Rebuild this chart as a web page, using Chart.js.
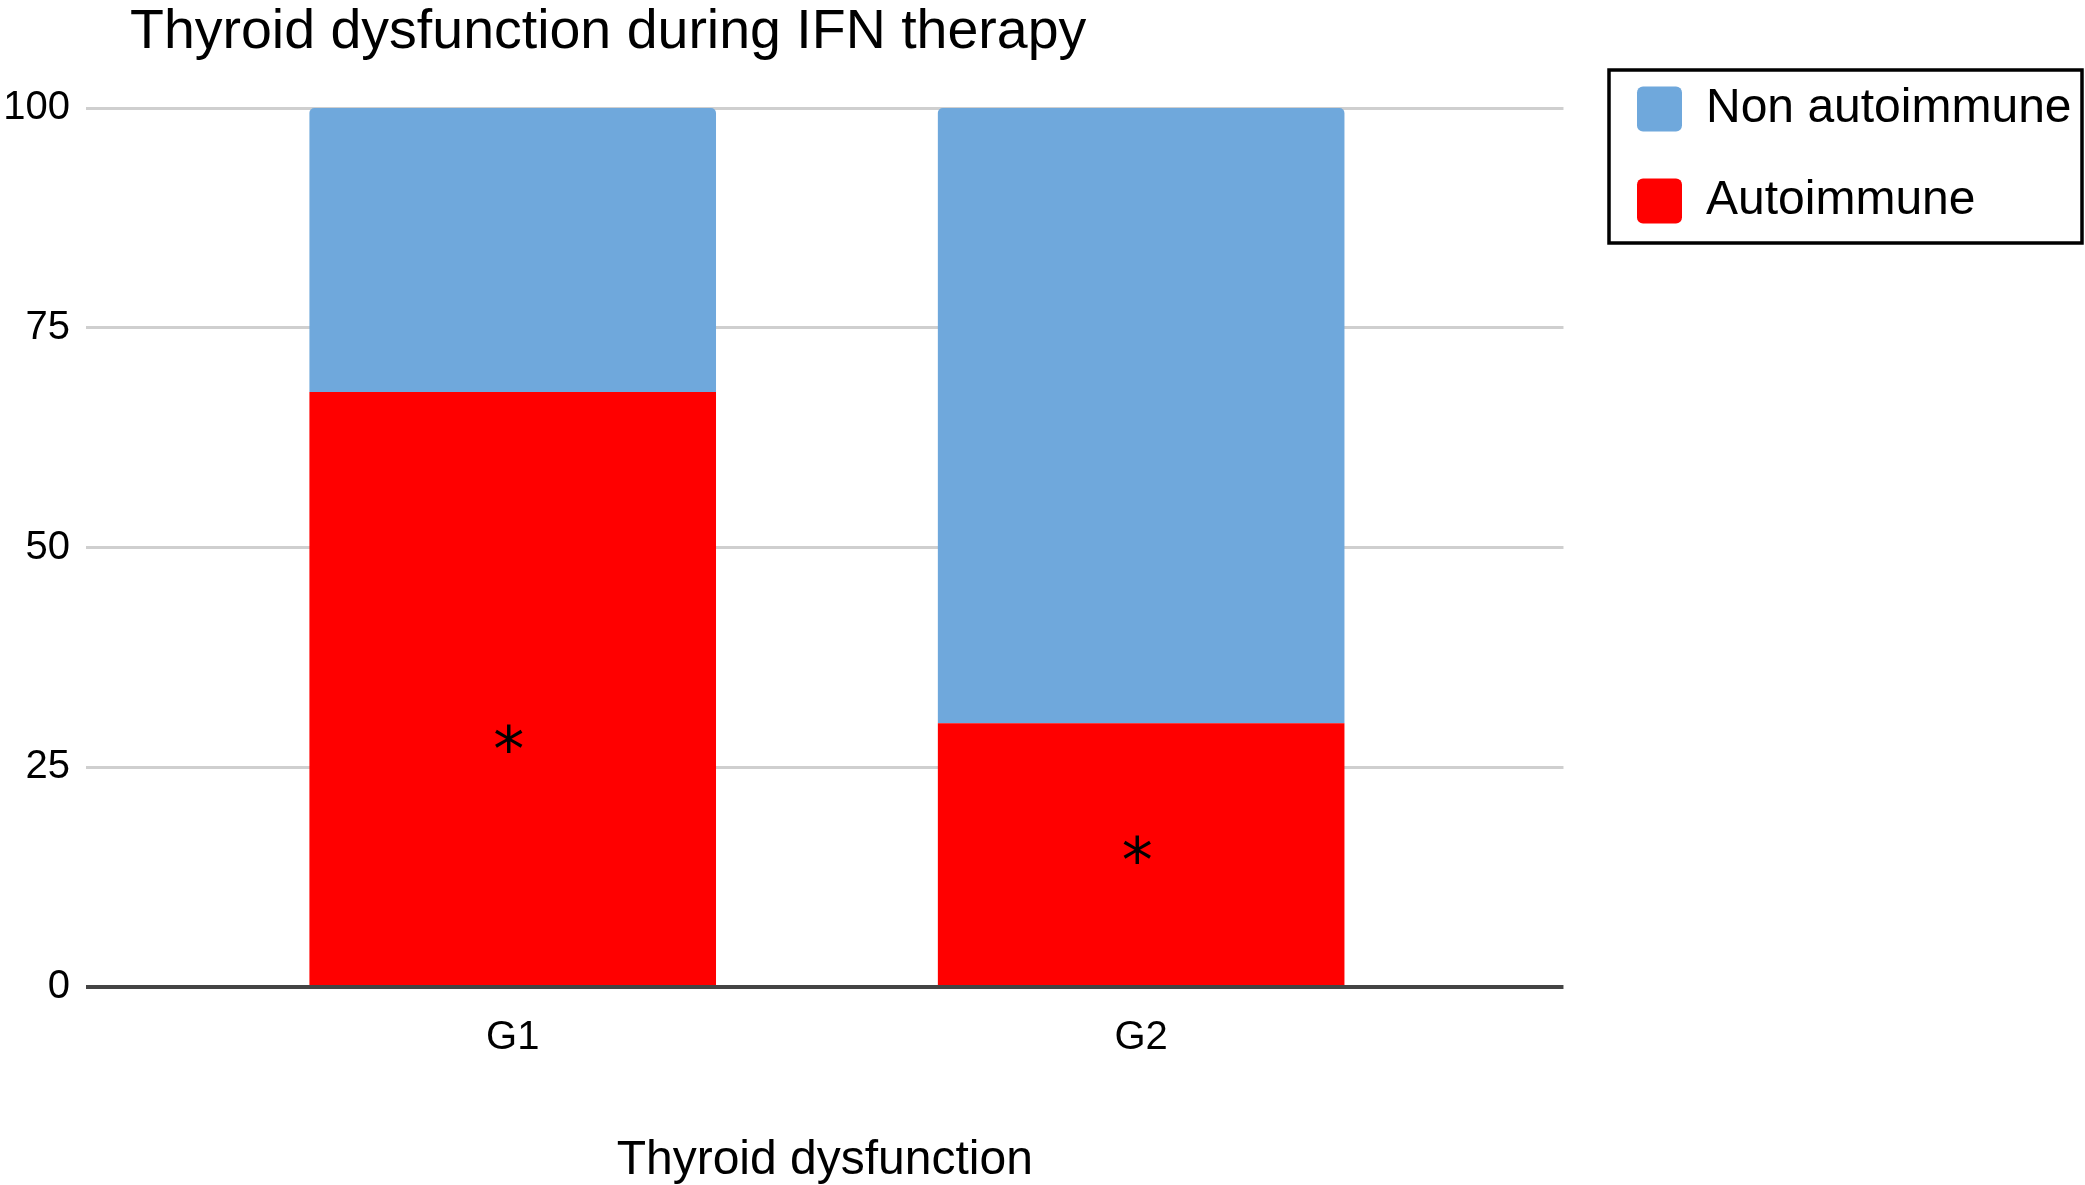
<!DOCTYPE html>
<html>
<head>
<meta charset="utf-8">
<script src="https://cdn.jsdelivr.net/npm/chart.js@4/dist/chart.umd.min.js"></script>
<style>
  body { margin: 0; background: #fff; }
  #wrap { width: 2085px; height: 1185px; }
</style>
</head>
<body>
<div id="wrap"><canvas id="myChart"></canvas></div>
<script>
/* Data */
const categories = ['G1', 'G2'];
const autoimmune = [67.7, 30];
const nonAutoimmune = [32.3, 70];
const yTickValues = [0, 25, 50, 75, 100];
const starAt = [28.3, 15.6];
const chartTitle = 'Thyroid dysfunction during IFN therapy';
const xTitle = 'Thyroid dysfunction';

const FONT = "'Liberation Sans', Arial, Helvetica, sans-serif";

function points(values) {
  return values.map(function (v, i) { return { x: i + 1, y: v }; });
}

/* Title, asterisks and legend frame */
const extras = {
  id: 'extras',
  afterLayout: function (chart) {
    // the legend sits higher than the plot, like the original
    const legend = chart.legend;
    legend.left = 1593;
    legend.right = legend.left + legend.width;
    legend.top = 41;
    legend.bottom = legend.top + legend.height;
  },
  afterDraw: function (chart) {
    const ctx = chart.ctx;
    const xs = chart.scales.x;
    const ys = chart.scales.y;
    ctx.save();
    ctx.fillStyle = '#000';
    ctx.font = '55.5px ' + FONT;
    ctx.textAlign = 'left';
    ctx.textBaseline = 'alphabetic';
    ctx.fillText(chartTitle, 130, 48);

    ctx.font = '62px "DejaVu Sans", sans-serif';
    ctx.textAlign = 'center';
    const m = ctx.measureText('*');
    const shift = (m.actualBoundingBoxAscent - m.actualBoundingBoxDescent) / 2;
    starAt.forEach(function (v, i) {
      ctx.fillText('*', xs.getPixelForValue(i + 1) - 4, ys.getPixelForValue(v) + shift);
    });

    const boxes = chart.legend.legendHitBoxes;
    if (boxes.length) {
      const first = boxes[0];
      const last = boxes[boxes.length - 1];
      const left = 1609;
      const top = first.top - 15;
      ctx.lineWidth = 3.5;
      ctx.strokeStyle = '#000';
      ctx.strokeRect(left, top, 2082 - left, last.top + last.height + 18 - top);
    }
    ctx.restore();
  }
};

const ctx = document.getElementById('myChart').getContext('2d');
// eslint-disable-next-line no-undef
const chart = new Chart(ctx, {
  type: 'bar',
  data: {
    datasets: [{
      label: 'Autoimmune',
      backgroundColor: '#FF0000',
      data: points(autoimmune),
    },
    {
      label: 'Non autoimmune',
      backgroundColor: '#6FA8DC',
      borderRadius: { topLeft: 5, topRight: 5 },
      borderSkipped: false,
      data: points(nonAutoimmune),
    }]
  },
  options: {
    responsive: true,
    maintainAspectRatio: false,
    animation: false,
    categoryPercentage: 1,
    barPercentage: 0.647,
    layout: { padding: { top: 108, left: 3, right: 33, bottom: 0 } },
    plugins: {
      tooltip: { enabled: false },
      legend: {
        position: 'right',
        align: 'start',
        reverse: true,
        labels: {
          boxWidth: 45,
          boxHeight: 45,
          useBorderRadius: true,
          borderRadius: 6,
          padding: 44,
          color: '#000',
          font: { family: FONT, size: 48 },
        },
      },
    },
    scales: {
      x: {
        type: 'linear',
        stacked: true,
        offset: false,
        min: 0.321,
        max: 2.672,
        grid: { display: false },
        border: { display: false },
        afterBuildTicks: function (axis) {
          axis.ticks = categories.map(function (c, i) { return { value: i + 1 }; });
        },
        ticks: {
          padding: 19,
          color: '#000',
          font: { family: FONT, size: 40 },
          callback: function (value) { return categories[value - 1]; },
        },
        title: {
          display: true,
          text: xTitle,
          color: '#000',
          font: { family: FONT, size: 48, lineHeight: 1 },
          padding: { top: 56, bottom: 0 },
        },
      },
      y: {
        stacked: true,
        min: 0,
        max: 100,
        afterBuildTicks: function (axis) {
          axis.ticks = yTickValues.map(function (v) { return { value: v }; });
        },
        afterFit: function (axis) {
          axis.width = 83;
        },
        border: { display: false },
        grid: {
          drawTicks: false,
          color: function (c) { return c.tick && c.tick.value === 0 ? '#444' : '#cfcfcf'; },
          lineWidth: function (c) { return c.tick && c.tick.value === 0 ? 4 : 3; },
        },
        ticks: {
          padding: 16,
          color: '#000',
          font: { family: FONT, size: 40 },
        },
      },
    },
  },
  plugins: [extras],
});
</script>
</body>
</html>
